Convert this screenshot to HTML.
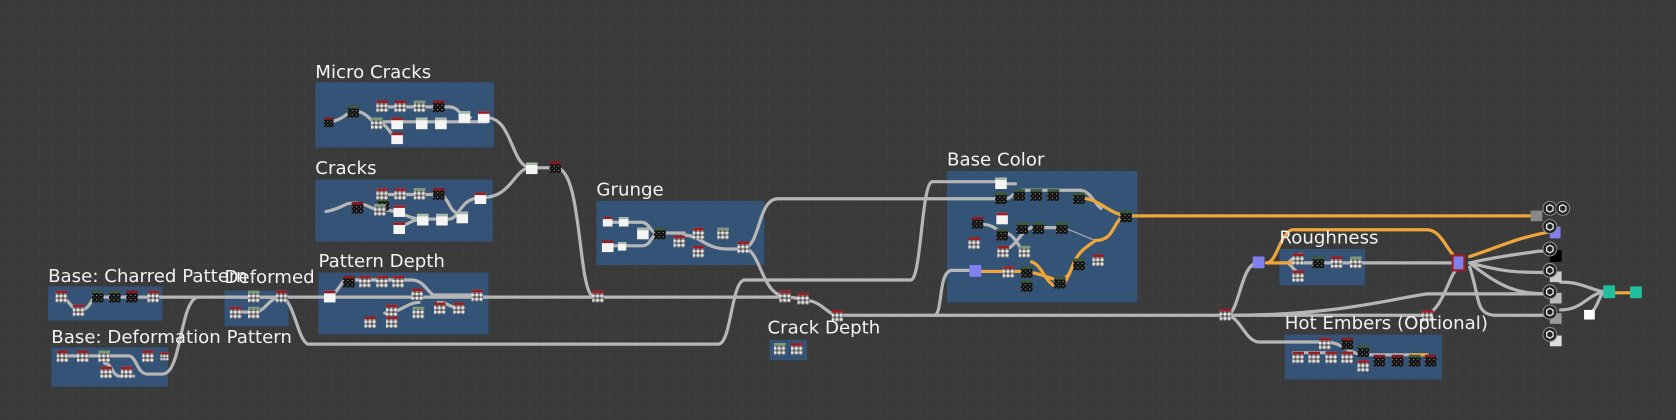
<!DOCTYPE html>
<html><head><meta charset="utf-8"><style>
html,body{margin:0;padding:0;background:#3a3a3a;}
svg{display:block}
text{font-family:"DejaVu Sans","Liberation Sans",sans-serif;fill:#f2f2f2;font-size:17px;}
</style></head><body>
<svg width="1676" height="420" viewBox="0 0 1568 393" preserveAspectRatio="none" xmlns="http://www.w3.org/2000/svg">
<defs>
<pattern id="grid" width="12.4" height="12.4" patternUnits="userSpaceOnUse"><rect width="12.4" height="12.4" fill="#3a3a3a"/><path d="M12.4 0V12.4H0" fill="none" stroke="#424242" stroke-width="1"/></pattern>
<pattern id="nz" width="4" height="4" patternUnits="userSpaceOnUse"><rect width="4" height="4" fill="#9a9a9a"/><rect width="2" height="2" fill="#eee"/><rect x="2" y="2" width="2" height="2" fill="#555"/></pattern>
<pattern id="nzd" width="4" height="4" patternUnits="userSpaceOnUse"><rect width="4" height="4" fill="#111"/><rect width="1" height="1" fill="#aaa"/><rect x="2" y="2" width="1" height="1" fill="#666"/></pattern>
<symbol id="g" viewBox="0 0 11 11"><rect width="11" height="11" fill="url(#nz)"/><rect width="11" height="2.5" fill="#9c1c24"/></symbol>
<symbol id="gg" viewBox="0 0 11 11"><rect width="11" height="11" fill="url(#nz)"/><rect width="11" height="2.5" fill="#7a9a7a"/></symbol>
<symbol id="w" viewBox="0 0 11 11"><rect width="11" height="11" fill="#f4f4f4"/><rect width="11" height="2.5" fill="#a9b9a9"/></symbol>
<symbol id="wr" viewBox="0 0 11 11"><rect width="11" height="11" fill="#f4f4f4"/><rect width="11" height="2.5" fill="#9c1c24"/></symbol>
<symbol id="b" viewBox="0 0 11 11"><rect width="11" height="11" fill="url(#nzd)"/><rect width="11" height="2.5" fill="#3c5a3c"/></symbol>
<symbol id="br" viewBox="0 0 11 11"><rect width="11" height="11" fill="url(#nzd)"/><rect width="11" height="2.5" fill="#8a1a20"/></symbol>
<symbol id="o" viewBox="0 0 14 14"><circle cx="7" cy="7" r="6.5" fill="#222" stroke="#888" stroke-width="1"/><path d="M7 3.5L10 5.2V8.8L7 10.5L4 8.8V5.2Z" fill="none" stroke="#eee" stroke-width="1.2"/></symbol>
</defs>
<rect width="1568" height="393" fill="url(#grid)"/>

<!-- frames -->
<g fill="#34557a" opacity="0.95">
<rect x="295" y="77" width="167" height="61"/>
<rect x="295" y="168" width="166" height="58"/>
<rect x="298" y="255" width="159" height="58"/>
<rect x="558" y="188" width="157" height="60"/>
<rect x="886" y="160" width="178" height="123"/>
<rect x="45" y="268" width="107" height="32"/>
<rect x="210" y="272" width="60" height="33"/>
<rect x="48" y="325" width="109" height="37"/>
<rect x="720" y="318" width="35" height="19"/>
<rect x="1197" y="233" width="80" height="34"/>
<rect x="1202" y="313" width="147" height="42"/>
</g>

<!-- gray wires -->
<g fill="none" stroke="#b6b6b6" stroke-width="3" stroke-linecap="round">
<path d="M150 278H560"/>
<path d="M152 350C170 350 168 282 185 278"/>
<path d="M262 278C275 278 278 318 288 322H672C684 322 684 265 696 262H852C862 262 862 172 872 170H935"/>
<path d="M560 278H735C745 278 748 280 760 282C770 285 775 294 783 295H1147"/>
<path d="M455 110C480 110 478 157 497 157H520C545 157 540 270 555 278"/>
<path d="M450 185C480 185 480 157 497 157"/>
<path d="M695 232C712 232 708 186 728 186H940"/>
<path d="M695 232C712 232 712 277 735 277"/>
<path d="M875 295C882 290 878 255 890 253H912"/>
<path d="M1147 295C1160 295 1160 246 1177 246"/>
<path d="M1147 295C1160 295 1165 320 1178 320H1240"/>
<path d="M1270 246H1365"/>
<path d="M1147 295H1330C1350 295 1355 255 1365 250"/>
<path d="M1150 295C1250 295 1300 280 1335 275H1450"/>
<path d="M1375 246C1400 240 1420 238 1440 235H1450"/>
<path d="M1375 246C1410 255 1420 255 1450 255"/>
<path d="M1375 246C1405 270 1420 275 1450 275"/>
<path d="M1375 250C1385 280 1380 295 1400 295H1450"/>
<path d="M1460 264C1480 264 1485 270 1500 273"/>
<path d="M1460 290C1480 290 1485 276 1500 273"/>
<path d="M1485 295C1495 290 1495 278 1500 274"/>
<!-- inner micro/crack wires -->
<path d="M310 114C325 110 325 104 330 104C345 104 345 114 352 114H455M360 100H420C430 100 430 110 440 110M352 114C362 114 365 128 372 128M305 198C320 195 322 190 330 190C345 190 345 196 355 196C375 196 380 205 395 205H420C430 205 430 185 450 185M360 182H410C420 182 420 200 430 200M372 212C380 212 385 205 395 205"/>
<path d="M305 278C318 275 318 262 325 262H385C395 262 398 270 405 276H445M360 293C375 293 380 283 392 283M410 283C420 283 420 288 430 288"/>
<path d="M570 208H600C608 208 608 218 615 218H640M570 230H600C610 230 608 220 615 220M640 220C655 220 660 233 680 233H695"/>
<path d="M55 278C65 278 65 290 75 290C85 290 85 278 90 278H145M60 333H120C128 333 128 350 138 350H152M98 340C105 340 105 352 112 352H125"/>
<path d="M225 278H262M218 292H238C248 292 250 280 262 278"/>
<path d="M940 186C948 186 948 178 958 178H1010C1020 178 1025 192 1030 195M935 172H950M920 210C930 210 935 218 940 218M940 233C950 233 955 215 965 213H990M940 218C950 218 955 237 960 237"/>
<path d="M1205 246C1212 240 1212 238 1218 238M1205 246C1212 252 1212 256 1218 256M1218 246H1270"/>
<path d="M1240 320C1255 320 1260 330 1275 332H1335M1210 330H1240"/>
<path d="M990 213C1000 213 1015 222 1025 225" stroke-width="1"/>
</g>

<!-- orange wires -->
<g fill="none" stroke="#f0a53a" stroke-width="3" stroke-linecap="round">
<path d="M1055 202H1437"/>
<path d="M1008 185C1030 185 1035 200 1055 202"/>
<path d="M1025 225C1045 225 1040 203 1055 202"/>
<path d="M915 254H960M960 254C975 256 985 262 990 262C1000 262 1002 252 1005 245C1010 235 1015 232 1025 225"/>
<path d="M965 245C975 248 978 265 988 268C998 268 1000 255 1005 246"/>
<path d="M1185 246C1195 246 1198 215 1210 215H1335C1350 215 1355 240 1365 242"/>
<path d="M1185 246C1195 246 1200 246 1210 246"/>
<path d="M1375 240C1400 232 1420 222 1450 217"/>
<path d="M1505 274H1525"/>
<path d="M1320 332H1335"/>
</g>

<!-- nodes -->
<g>
<use href="#br" x="303" y="109" width="9" height="11"/>
<use href="#b" x="325" y="99" width="11" height="11"/>
<use href="#gg" x="347" y="110" width="11" height="11"/>
<use href="#g" x="352" y="94" width="11" height="11"/>
<use href="#g" x="369" y="94" width="11" height="11"/>
<use href="#gg" x="387" y="94" width="11" height="11"/>
<use href="#br" x="405" y="94" width="11" height="11"/>
<use href="#wr" x="366" y="110" width="11" height="11"/>
<use href="#wr" x="366" y="124" width="11" height="11"/>
<use href="#w" x="389" y="110" width="11" height="11"/>
<use href="#w" x="407" y="110" width="11" height="11"/>
<use href="#w" x="429" y="104" width="11" height="11"/>
<use href="#wr" x="447" y="104" width="11" height="11"/>

<use href="#br" x="329" y="189" width="11" height="11"/>
<use href="#b" x="353" y="186" width="11" height="11"/>
<use href="#gg" x="350" y="191" width="11" height="11"/>
<use href="#g" x="352" y="176" width="11" height="11"/>
<use href="#g" x="369" y="176" width="11" height="11"/>
<use href="#gg" x="387" y="176" width="11" height="11"/>
<use href="#br" x="405" y="176" width="11" height="11"/>
<use href="#wr" x="368" y="192" width="11" height="11"/>
<use href="#wr" x="368" y="208" width="11" height="11"/>
<use href="#w" x="390" y="200" width="11" height="11"/>
<use href="#w" x="408" y="200" width="11" height="11"/>
<use href="#w" x="427" y="198" width="11" height="11"/>
<use href="#wr" x="444" y="180" width="11" height="11"/>
<use href="#w" x="492" y="152" width="11" height="11"/>
<use href="#br" x="514" y="151" width="11" height="11"/>

<use href="#wr" x="303" y="272" width="11" height="11"/>
<use href="#br" x="321" y="258" width="11" height="11"/>
<use href="#g" x="336" y="258" width="11" height="11"/>
<use href="#g" x="352" y="258" width="11" height="11"/>
<use href="#g" x="367" y="258" width="11" height="11"/>
<use href="#g" x="385" y="270" width="11" height="11"/>
<use href="#g" x="361" y="285" width="11" height="11"/>
<use href="#g" x="341" y="296" width="11" height="11"/>
<use href="#g" x="361" y="296" width="11" height="11"/>
<use href="#gg" x="386" y="287" width="11" height="11"/>
<use href="#g" x="406" y="283" width="11" height="11"/>
<use href="#g" x="424" y="283" width="11" height="11"/>
<use href="#g" x="441" y="271" width="11" height="11"/>

<use href="#g" x="52" y="272" width="11" height="11"/>
<use href="#g" x="68" y="285" width="11" height="11"/>
<use href="#b" x="86" y="272" width="11" height="11"/>
<use href="#b" x="102" y="272" width="11" height="11"/>
<use href="#br" x="118" y="272" width="11" height="11"/>
<use href="#g" x="138" y="272" width="11" height="11"/>
<use href="#g" x="53" y="328" width="11" height="11"/>
<use href="#g" x="72" y="328" width="11" height="11"/>
<use href="#gg" x="92" y="328" width="11" height="11"/>
<use href="#g" x="94" y="343" width="11" height="11"/>
<use href="#g" x="113" y="343" width="11" height="11"/>
<use href="#g" x="133" y="328" width="11" height="11"/>
<use href="#g" x="150" y="328" width="8" height="11"/>
<use href="#gg" x="232" y="272" width="11" height="11"/>
<use href="#g" x="258" y="272" width="11" height="11"/>
<use href="#g" x="215" y="287" width="11" height="11"/>
<use href="#gg" x="232" y="287" width="11" height="11"/>

<use href="#wr" x="563" y="203" width="11" height="9"/>
<use href="#w" x="578" y="203" width="11" height="9"/>
<use href="#wr" x="563" y="225" width="11" height="11"/>
<use href="#w" x="578" y="225" width="8" height="11"/>
<use href="#w" x="596" y="213" width="11" height="11"/>
<use href="#b" x="612" y="213" width="11" height="11"/>
<use href="#g" x="630" y="212" width="11" height="28"/>
<use href="#g" x="648" y="213" width="11" height="11"/>
<use href="#g" x="648" y="230" width="11" height="11"/>
<use href="#gg" x="671" y="213" width="11" height="11"/>
<use href="#g" x="690" y="226" width="11" height="11"/>
<use href="#g" x="554" y="272" width="11" height="11"/>
<use href="#g" x="729" y="272" width="11" height="11"/>
<use href="#g" x="746" y="274" width="11" height="11"/>
<use href="#g" x="778" y="290" width="11" height="11"/>
<use href="#gg" x="724" y="321" width="11" height="11"/>
<use href="#g" x="740" y="321" width="11" height="11"/>

<use href="#w" x="931" y="166" width="11" height="11"/>
<use href="#b" x="931" y="180" width="11" height="11"/>
<use href="#b" x="948" y="177" width="11" height="11"/>
<use href="#b" x="964" y="177" width="11" height="11"/>
<use href="#b" x="980" y="177" width="11" height="11"/>
<use href="#b" x="1004" y="180" width="11" height="11"/>
<use href="#b" x="1048" y="197" width="11" height="11"/>
<use href="#br" x="909" y="203" width="11" height="11"/>
<use href="#wr" x="932" y="199" width="11" height="11"/>
<use href="#b" x="932" y="214" width="11" height="11"/>
<use href="#g" x="906" y="222" width="11" height="11"/>
<use href="#b" x="951" y="208" width="11" height="11"/>
<use href="#b" x="966" y="208" width="11" height="11"/>
<use href="#b" x="988" y="208" width="11" height="11"/>
<use href="#g" x="933" y="230" width="11" height="11"/>
<use href="#gg" x="953" y="230" width="11" height="11"/>
<use href="#g" x="1022" y="238" width="11" height="11"/>
<use href="#b" x="955" y="249" width="11" height="11"/>
<use href="#b" x="955" y="262" width="11" height="11"/>
<use href="#g" x="938" y="249" width="11" height="11"/>
<use href="#b" x="986" y="259" width="11" height="11"/>
<use href="#b" x="1004" y="242" width="11" height="11"/>
<rect x="907" y="248" width="11" height="11" fill="#8080f0"/>

<use href="#g" x="1141" y="289" width="11" height="11"/>
<rect x="1172" y="240" width="11" height="11" fill="#8080f0"/>
<use href="#g" x="1209" y="237" width="11" height="11"/>
<use href="#g" x="1209" y="253" width="11" height="11"/>
<use href="#b" x="1228" y="240" width="11" height="11"/>
<use href="#g" x="1245" y="240" width="11" height="11"/>
<use href="#gg" x="1263" y="240" width="11" height="11"/>
<rect x="1358" y="238" width="13" height="16" fill="#9c1c24"/><rect x="1360" y="240" width="9" height="12" fill="#8080f0"/>
<use href="#g" x="1330" y="290" width="11" height="11"/>

<use href="#g" x="1234" y="316" width="11" height="11"/>
<use href="#br" x="1255" y="316" width="11" height="11"/>
<use href="#g" x="1209" y="329" width="11" height="11"/>
<use href="#g" x="1224" y="329" width="11" height="11"/>
<use href="#g" x="1240" y="329" width="11" height="11"/>
<use href="#g" x="1255" y="329" width="11" height="11"/>
<use href="#b" x="1270" y="323" width="11" height="11"/>
<use href="#g" x="1270" y="337" width="11" height="11"/>
<use href="#br" x="1285" y="332" width="11" height="11"/>
<use href="#br" x="1302" y="332" width="11" height="11"/>
<use href="#b" x="1318" y="332" width="11" height="11"/>
<use href="#br" x="1333" y="332" width="11" height="11"/>

<rect x="1432" y="197" width="11" height="10" fill="#888"/>
<use href="#o" x="1443" y="188" width="14" height="14"/>
<use href="#o" x="1455" y="188" width="14" height="14"/>
<rect x="1450" y="212" width="10" height="11" fill="#8080f0"/>
<use href="#o" x="1443" y="205" width="14" height="14"/>
<rect x="1450" y="234" width="11" height="11" fill="#000"/>
<use href="#o" x="1443" y="226" width="14" height="14"/>
<rect x="1450" y="254" width="11" height="10" fill="#ccc"/>
<use href="#o" x="1443" y="246" width="14" height="14"/>
<rect x="1450" y="274" width="11" height="10" fill="#bbb"/>
<use href="#o" x="1443" y="266" width="14" height="14"/>
<rect x="1450" y="293" width="11" height="10" fill="#999"/>
<use href="#o" x="1443" y="285" width="14" height="14"/>
<rect x="1450" y="314" width="11" height="10" fill="#ddd"/>
<use href="#o" x="1443" y="306" width="14" height="14"/>
<rect x="1482" y="290" width="10" height="9" fill="#fff"/>
<rect x="1500" y="267" width="11" height="12" fill="#1fbfa0"/>
<rect x="1525" y="268" width="11" height="11" fill="#1fbfa0"/>
</g>

<!-- labels -->
<text x="295" y="73">Micro Cracks</text>
<text x="295" y="163">Cracks</text>
<text x="298" y="250">Pattern Depth</text>
<text x="558" y="183">Grunge</text>
<text x="886" y="155">Base Color</text>
<text x="45" y="264">Base: Charred Pattern</text>
<text x="210" y="265">Deformed</text>
<text x="48" y="321">Base: Deformation Pattern</text>
<text x="718" y="312">Crack Depth</text>
<text x="1197" y="228">Roughness</text>
<text x="1202" y="308">Hot Embers (Optional)</text>
</svg>
</body></html>
